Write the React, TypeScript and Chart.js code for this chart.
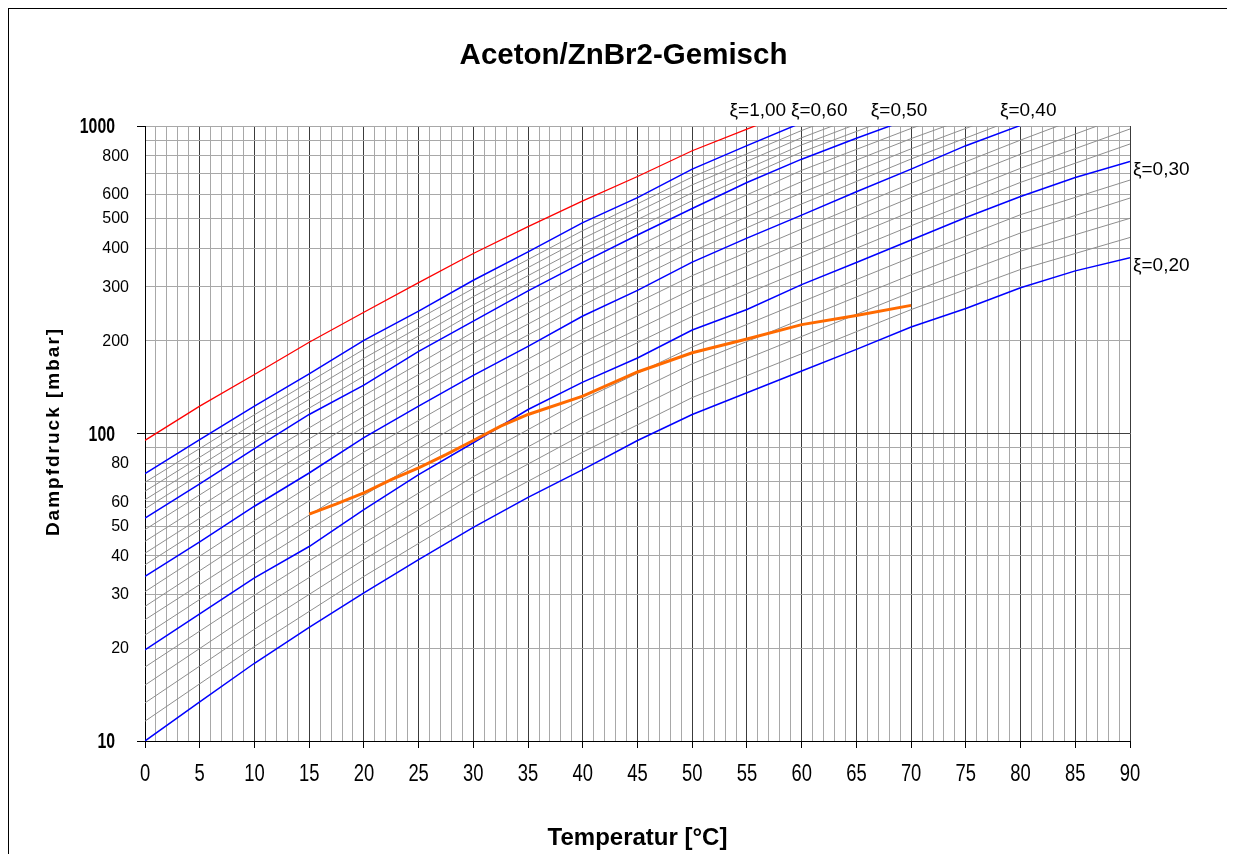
import { useEffect, useRef } from 'react';
import { Chart, registerables } from 'chart.js';

Chart.register(...registerables);

// ---- data ----
const temps5 = [0, 5, 10, 15, 20, 25, 30, 35, 40, 45, 50, 55, 60, 65, 70, 75, 80, 85, 90];
const temps10 = [0, 10, 20, 30, 40, 50, 60, 70, 80, 90];

// ξ = 1.00 (pure acetone), red
const xi100 = [95, 122.7, 155.6, 198, 248, 309.6, 385, 471, 571, 685, 831, 977, 1150];
// blue curves (every 5 °C)
const xi60 = [74.1, 95.5, 122.7, 156.4, 200.8, 250, 315, 389.8, 485, 585, 724, 863, 1025];
const xi50 = [53.1, 68.6, 89.3, 115.3, 143.7, 185, 232, 291, 360, 442, 539, 655, 780, 912, 1060];
const xi40 = [34.3, 44.4, 58.0, 74.4, 97, 122.7, 154.5, 192, 241, 292, 361, 432, 513, 611, 724, 863, 1005, 1150, 1310];
const xi30 = [19.8, 25.9, 33.9, 42.9, 56.5, 73.5, 93.3, 119.7, 146.9, 176, 217, 253, 305, 360, 426, 504, 590, 680, 767];
const xi20 = [10, 13.4, 17.9, 23.4, 30.3, 38.9, 49.5, 62.0, 76.3, 94.9, 115.3, 135.7, 159.6, 187.8, 222, 255, 298, 338, 373];

// grey curves (every 10 °C)
const xi22 = [11.6, 20.3, 34.3, 56.2, 87.0, 130.9, 181.7, 252.9, 341.6, 434];
const xi24 = [13.3, 23.1, 38.9, 63.8, 99.2, 148.5, 206.8, 288.1, 391.7, 501];
const xi26 = [15.2, 26.3, 44.0, 72.4, 113.1, 168.5, 235.4, 328.2, 449.0, 583];
const xi28 = [17.4, 29.8, 49.9, 82.2, 128.9, 191.2, 268.0, 373.9, 514.8, 667];
const xi32 = [22.1, 37.7, 62.9, 103.2, 162.2, 240.3, 338.4, 473.7, 655.7, 874];
const xi34 = [24.8, 42.0, 70.1, 114.2, 179.1, 266.0, 375.5, 526.7, 728.7, 978];
const xi36 = [27.4, 46.8, 78.1, 126.3, 197.7, 294.5, 416.7, 585.6, 809.8, 1095];
const xi38 = [30.6, 52.1, 87.0, 139.7, 218.3, 326.1, 462.3, 651.2, 900, 1225];
const xi42 = [37.4, 63.2, 104.9, 167.6, 261.1, 391.1, 557.8, 781, 1070];
const xi44 = [40.8, 68.9, 113.5, 181.8, 283.0, 423.8, 606.6, 843, 1145];
const xi46 = [44.6, 75.1, 122.8, 197.2, 306.6, 459.2, 659.6, 910, 1225];
const xi48 = [48.7, 81.9, 132.9, 213.9, 332.2, 497.5, 717.3, 982, 1310];
const xi52 = [56.9, 95.2, 153.6, 246.6, 382.1, 571.8, 823, 1120];
const xi54 = [60.9, 101.4, 164.3, 262.2, 405.6, 606.5, 868, 1184];
const xi56 = [64.9, 108.0, 175.6, 278.7, 430.5, 643.4, 916, 1252];
const xi58 = [69.4, 115.1, 187.8, 296.3, 456.9, 682.5, 967, 1324];

// orange operating line
const orangeTemps = [15, 17.5, 20, 22.5, 25, 27.5, 30, 32.5, 35, 40, 45, 50, 55, 60, 65, 70];
const orangeValues = [54.7, 59.0, 64.1, 70.8, 77.3, 85.4, 94.9, 105.7, 115.3, 132.3, 158.5, 183, 203, 226, 242, 261];

// ticks / labels
const xTickLabels = [0, 5, 10, 15, 20, 25, 30, 35, 40, 45, 50, 55, 60, 65, 70, 75, 80, 85, 90];
const yTickLabels = [20, 30, 40, 50, 60, 80, 200, 300, 400, 500, 600, 800];
const yBoldTickLabels = [10, 100, 1000];
const topLabelTexts = ['ξ=1,00', 'ξ=0,60', 'ξ=0,50', 'ξ=0,40'];
const topLabelTemps = [56.0, 61.6, 68.9, 80.7];
const sideLabelTexts = ['ξ=0,30', 'ξ=0,20'];

const greySeries = [xi22, xi24, xi26, xi28, xi32, xi34, xi36, xi38, xi42, xi44, xi46, xi48, xi52, xi54, xi56, xi58];
const blueSeries = [xi20, xi30, xi40, xi50, xi60];
const sideLabelSeries = [xi30, xi20];

const FONT = '"Liberation Sans", Arial, sans-serif';

const toPoints = (ts: number[], vs: number[]) => vs.map((v, i) => ({ x: ts[i], y: v }));

const isDecade = (v: number) => Math.abs(Math.log10(v) - Math.round(Math.log10(v))) < 1e-9;

const textPlugin = {
  id: 'texts',
  afterDraw(chart: any) {
    const { ctx, chartArea, scales } = chart;
    const xs = scales.x;
    const ys = scales.y;
    const cx = (chartArea.left + chartArea.right) / 2;
    ctx.save();
    ctx.fillStyle = '#000';

    // title
    ctx.font = `bold 29.5px ${FONT}`;
    ctx.textAlign = 'center';
    ctx.textBaseline = 'middle';
    ctx.fillText('Aceton/ZnBr2-Gemisch', cx - 14, 47);

    // x tick labels (condensed)
    ctx.font = `23px ${FONT}`;
    for (const v of xTickLabels) {
      const px = xs.getPixelForValue(v);
      ctx.save();
      ctx.translate(px, chartArea.bottom + 34);
      ctx.scale(0.8, 1);
      ctx.fillText(String(v), 0, 0);
      ctx.restore();
    }

    // y tick labels
    ctx.textAlign = 'right';
    ctx.font = `16px ${FONT}`;
    for (const v of yTickLabels) {
      ctx.fillText(String(v), chartArea.left - 16, ys.getPixelForValue(v) + 0.5);
    }
    ctx.font = `bold 22px ${FONT}`;
    for (const v of yBoldTickLabels) {
      ctx.save();
      ctx.translate(chartArea.left - 30, ys.getPixelForValue(v) + 1);
      ctx.scale(0.72, 1);
      ctx.fillText(String(v), 0, 0);
      ctx.restore();
    }

    // axis titles
    ctx.textAlign = 'center';
    ctx.font = `bold 24px ${FONT}`;
    ctx.fillText('Temperatur [°C]', cx, 829);

    ctx.save();
    ctx.translate(45, (chartArea.top + chartArea.bottom) / 2 - 2);
    ctx.rotate(-Math.PI / 2);
    ctx.font = `bold 19px ${FONT}`;
    (ctx as any).letterSpacing = '2px';
    ctx.fillText('Dampfdruck [mbar]', 0, 0);
    ctx.restore();

    // ξ labels
    ctx.font = `19px ${FONT}`;
    topLabelTexts.forEach((t, i) => {
      ctx.fillText(t, xs.getPixelForValue(topLabelTemps[i]), chartArea.top - 15.5);
    });
    ctx.textAlign = 'left';
    sideLabelTexts.forEach((t, i) => {
      const s = sideLabelSeries[i];
      ctx.fillText(t, chartArea.right + 3, ys.getPixelForValue(s[s.length - 1]) + 8.5);
    });

    ctx.restore();
  },
};

export default function App() {
  const ref = useRef<HTMLCanvasElement | null>(null);

  useEffect(() => {
    if (!ref.current) return;
    const datasets: any[] = [];
    greySeries.forEach((s) =>
      datasets.push({ data: toPoints(temps10, s), borderColor: '#8e8e8e', borderWidth: 1, order: 4 })
    );
    blueSeries.forEach((s) =>
      datasets.push({ data: toPoints(temps5, s), borderColor: '#0000ff', borderWidth: 1.5, order: 3 })
    );
    datasets.push({ data: toPoints(temps5, xi100), borderColor: '#ff0000', borderWidth: 1.3, order: 2 });
    datasets.push({ data: toPoints(orangeTemps, orangeValues), borderColor: '#ff6a00', borderWidth: 3, order: 1 });
    datasets.forEach((d) => {
      d.pointRadius = 0;
      d.tension = 0;
      d.fill = false;
    });

    const chart = new Chart(ref.current, {
      type: 'line',
      data: { datasets },
      plugins: [textPlugin],
      options: {
        animation: false,
        responsive: false,
        events: [],
        layout: { padding: { left: 128, right: 105, top: 117, bottom: 106 } },
        plugins: { legend: { display: false }, tooltip: { enabled: false }, title: { display: false } },
        scales: {
          x: {
            type: 'linear',
            min: 0,
            max: 90,
            afterBuildTicks: (scale: any) => {
              const t = [];
              for (let v = 0; v <= 90; v++) t.push({ value: v });
              scale.ticks = t;
            },
            ticks: { display: false },
            grid: {
              color: (c: any) => (c.tick && c.tick.value % 5 === 0 ? '#3c3c3c' : '#a8a8a8'),
              lineWidth: 1,
              drawTicks: true,
              tickLength: 7,
              tickColor: (c: any) => (c.tick && c.tick.value % 5 === 0 ? '#000' : 'rgba(0,0,0,0)'),
            },
            border: { display: true, color: '#000', width: 1 },
          },
          y: {
            type: 'logarithmic',
            min: 10,
            max: 1000,
            afterBuildTicks: (scale: any) => {
              const t = [];
              for (let d = 10; d < 1000; d *= 10) for (let k = 1; k < 10; k++) t.push({ value: k * d });
              t.push({ value: 1000 });
              scale.ticks = t;
            },
            ticks: { display: false },
            grid: {
              color: (c: any) => (c.tick && isDecade(c.tick.value) && c.tick.value !== 1000 ? '#404040' : '#a8a8a8'),
              lineWidth: 1,
              drawTicks: true,
              tickLength: 8,
              tickColor: (c: any) => (c.tick && isDecade(c.tick.value) ? '#000' : 'rgba(0,0,0,0)'),
            },
            border: { display: true, color: '#000', width: 1 },
          },
        },
      },
    });
    return () => chart.destroy();
  }, []);

  return (
    <div
      style={{
        width: 1226,
        height: 845,
        borderTop: '1px solid #000',
        borderLeft: '1px solid #000',
        background: '#fff',
      }}
    >
      <canvas ref={ref} width={1226} height={845} style={{ display: 'block' }} />
    </div>
  );
}
